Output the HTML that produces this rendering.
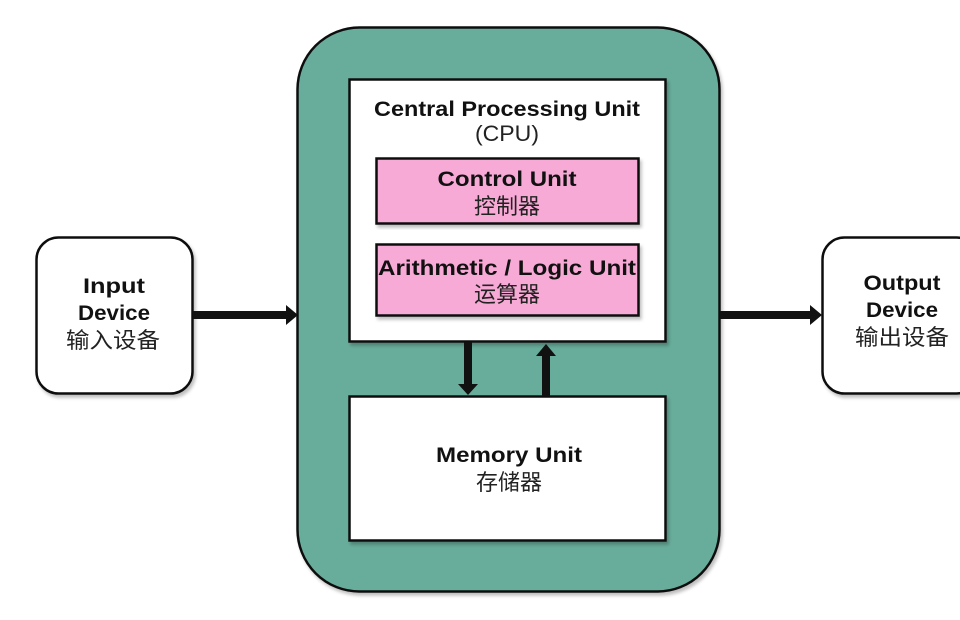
<!DOCTYPE html>
<html><head><meta charset="utf-8"><style>
html,body{margin:0;padding:0;background:#fff;width:960px;height:620px;overflow:hidden}
text{font-family:"Liberation Sans","Noto Sans CJK SC",sans-serif;fill:#111}
.b{font-weight:bold;font-size:21px}
.c{font-size:22px;fill:#222}
</style></head><body>
<svg width="960" height="620" viewBox="0 0 960 620" xmlns="http://www.w3.org/2000/svg">
<defs><filter id="s" x="-5%" y="-5%" width="115%" height="115%"><feDropShadow dx="2" dy="3" stdDeviation="1.5" flood-color="#000" flood-opacity="0.25"/></filter></defs>
<rect x="297.5" y="27.5" width="422" height="564" rx="62" fill="#67ad9b" stroke="#111" stroke-width="2.5" filter="url(#s)"/>
<rect x="349.5" y="79.5" width="316" height="262" fill="#fff" stroke="#111" stroke-width="2.5" filter="url(#s)"/>
<rect x="376.5" y="158.5" width="262" height="65" fill="#f8aad6" stroke="#111" stroke-width="2.5" filter="url(#s)"/>
<rect x="376.5" y="244.5" width="262" height="71" fill="#f8aad6" stroke="#111" stroke-width="2.5" filter="url(#s)"/>
<rect x="349.5" y="396.5" width="316" height="144" fill="#fff" stroke="#111" stroke-width="2.5" filter="url(#s)"/>
<rect x="36.5" y="237.5" width="156" height="156" rx="22" fill="#fff" stroke="#111" stroke-width="2.5" filter="url(#s)"/>
<rect x="822.5" y="237.5" width="156" height="156" rx="22" fill="#fff" stroke="#111" stroke-width="2.5" filter="url(#s)"/>
<rect x="193" y="311" width="95" height="8" fill="#111"/>
<polygon points="286,305 298,315 286,325" fill="#111"/>
<rect x="720" y="311" width="92" height="8" fill="#111"/>
<polygon points="810,305 822,315 810,325" fill="#111"/>
<rect x="464" y="342" width="8" height="44" fill="#111"/>
<polygon points="458,384 478,384 468,395" fill="#111"/>
<rect x="542" y="354" width="8" height="42" fill="#111"/>
<polygon points="536,356 556,356 546,344" fill="#111"/>
<text x="507" y="116" text-anchor="middle" class="b" textLength="266" lengthAdjust="spacingAndGlyphs">Central Processing Unit</text>
<text x="507" y="141" text-anchor="middle" class="c" textLength="64" lengthAdjust="spacingAndGlyphs">(CPU)</text>
<text x="507" y="186" text-anchor="middle" class="b" textLength="139" lengthAdjust="spacingAndGlyphs">Control Unit</text>
<text x="507" y="214" text-anchor="middle" class="c">控制器</text>
<text x="507" y="275" text-anchor="middle" class="b" textLength="258" lengthAdjust="spacingAndGlyphs">Arithmetic / Logic Unit</text>
<text x="507" y="302" text-anchor="middle" class="c">运算器</text>
<text x="509" y="462" text-anchor="middle" class="b" textLength="146" lengthAdjust="spacingAndGlyphs">Memory Unit</text>
<text x="509" y="490" text-anchor="middle" class="c">存储器</text>
<text x="114" y="293" text-anchor="middle" class="b" textLength="62" lengthAdjust="spacingAndGlyphs">Input</text>
<text x="114" y="320" text-anchor="middle" class="b" textLength="72" lengthAdjust="spacingAndGlyphs">Device</text>
<text x="113" y="348" text-anchor="middle" class="c" textLength="94" lengthAdjust="spacingAndGlyphs">输入设备</text>
<text x="902" y="290" text-anchor="middle" class="b" textLength="77" lengthAdjust="spacingAndGlyphs">Output</text>
<text x="902" y="317" text-anchor="middle" class="b" textLength="72" lengthAdjust="spacingAndGlyphs">Device</text>
<text x="902" y="345" text-anchor="middle" class="c" textLength="94" lengthAdjust="spacingAndGlyphs">输出设备</text>
</svg>
</body></html>
